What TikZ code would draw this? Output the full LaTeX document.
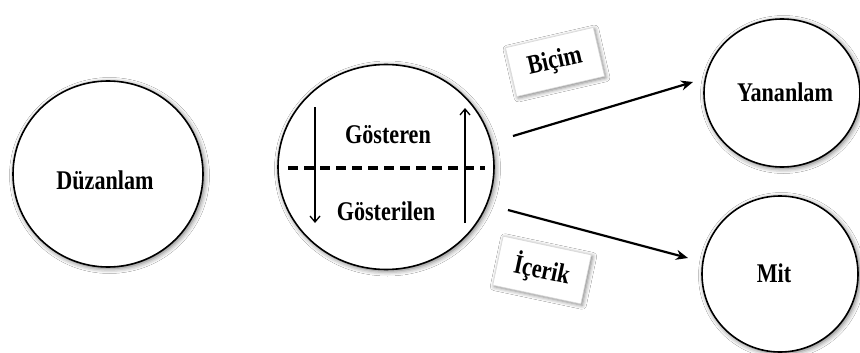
\documentclass[tikz,border=0pt]{standalone}
\usepackage{fontspec}
\setmainfont{Liberation Serif}[FakeStretch=0.82]
\usetikzlibrary{shapes.geometric,shadows.blur,arrows.meta}
\begin{document}
\begin{tikzpicture}[x=1pt,y=-1pt,
  lbl/.style={font=\fontsize{27}{30}\selectfont\bfseries},
  word/.style={lbl, anchor=base, inner sep=0pt},
  bubble/.style={ellipse, draw=black, line width=1.6pt, fill=white,
    blur shadow={shadow xshift=1.5pt, shadow yshift=-1.5pt, shadow blur radius=5pt, shadow opacity=60}},
  tag/.style={lbl, draw=gray!30, line width=0.6pt, fill=white, minimum width=90pt, minimum height=50pt,
    blur shadow={shadow xshift=1.5pt, shadow yshift=-1.5pt, shadow blur radius=4pt, shadow opacity=50}},
  link/.style={line width=2.2pt, -{Stealth[length=12pt,width=10pt]}},
  flow/.style={line width=1.3pt, -{Straight Barb[length=6pt,width=10pt]}}
]
\useasboundingbox (0,0) rectangle (860,353);
\fill[white] (0,0) rectangle (860,353);

% main concepts
\node[bubble, minimum width=190pt, minimum height=186pt] (duz) at (108,174) {};
\node[word] (duzt) at (105,189) {Düzanlam};

\node[bubble, minimum width=216pt, minimum height=205pt] (sign) at (386,167) {};
\node[word] (gos) at (388,143) {Gösteren};
\node[word] (gosl) at (386,220) {Gösterilen};

\node[bubble, minimum width=156pt, minimum height=148pt] (yan) at (782,93) {};
\node[word] (yant) at (785,102) {Yananlam};

\node[bubble, minimum width=156pt, minimum height=156pt] (mit) at (780,274) {};
\node[word] (mitt) at (774,282) {Mit};

% signifier / signified split
\coordinate (dl) at (288,168);
\coordinate (dr) at (485,168);
\draw[line width=3.4pt, dash pattern=on 10pt off 6pt] (dl) -- (dr);

\coordinate (downa) at (315,107);
\coordinate (downb) at (315,223);
\coordinate (upa) at (465,223);
\coordinate (upb) at (465,108);
\draw[flow] (downa) -- (downb);
\draw[flow] (upa) -- (upb);

% outgoing links
\coordinate (s1) at (513,136);
\coordinate (e1) at (693,82);
\coordinate (s2) at (508,210);
\coordinate (e2) at (688,258);
\draw[link] (s1) -- (e1);
\draw[link] (s2) -- (e2);

% link labels
\node[tag, rotate=13] (bic) at (555,62) {Biçim};
\node[tag, rotate=-12] (ice) at (542,270) {İçerik};
\end{tikzpicture}
\end{document}
